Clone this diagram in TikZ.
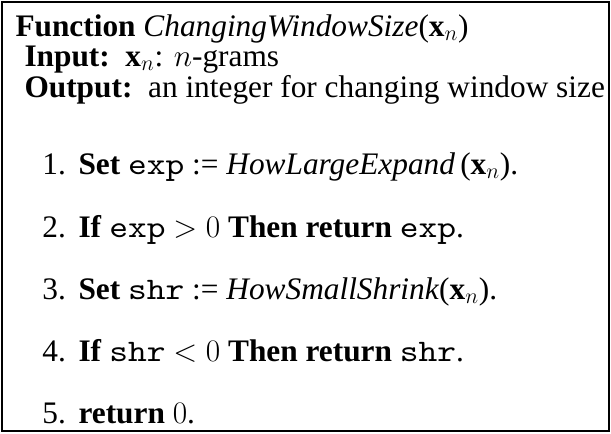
\documentclass[tikz,border=0pt]{standalone}
\usepackage{fix-cm}
\usepackage{fontspec}
\setmainfont{Liberation Serif}
\setmonofont{lmmono10-regular.otf}[FakeStretch=1.14]

\tikzset{every picture/.style={line width=0.75pt}}
\tikzset{algtext/.style={anchor=base west,inner sep=0pt,font=\fontsize{23.5}{28}\selectfont}}

\begin{document}
\begin{tikzpicture}[x=0.75pt,y=0.75pt,yscale=-1,xscale=1]
\useasboundingbox (0,0) rectangle (611,433);

%Shape: Rectangle [id:frame] 
\draw [line width=1.5pt] (2,2) rectangle (609,431) ;

% Text Node
\draw (15,36) node [algtext] (fname) {\textbf{Function} \textit{ChangingWindowSize}($\mathbf{x}_n$)};
% Text Node
\draw (24,66) node [algtext] (input) {\textbf{Input:}~~$\mathbf{x}_n$: $n$-grams};
% Text Node
\draw (24,97) node [algtext] (output) {\textbf{Output:}~~an integer for changing window size};

% Text Node
\draw (42,174) node [algtext] (n1) {1.};
\draw (78,174) node [algtext] (s1) {\textbf{Set} \texttt{exp} := \textit{HowLargeExpand}\,($\mathbf{x}_n$).};
% Text Node
\draw (42,237) node [algtext] (n2) {2.};
\draw (78,237) node [algtext] (s2) {\textbf{If} \texttt{exp} $>0$ \textbf{Then return} \texttt{exp}.};
% Text Node
\draw (42,299) node [algtext] (n3) {3.};
\draw (78,299) node [algtext] (s3) {\textbf{Set} \texttt{shr} := \textit{HowSmallShrink}($\mathbf{x}_n$).};
% Text Node
\draw (42,361) node [algtext] (n4) {4.};
\draw (78,361) node [algtext] (s4) {\textbf{If} \texttt{shr} $<0$ \textbf{Then return} \texttt{shr}.};
% Text Node
\draw (42,423) node [algtext] (n5) {5.};
\draw (78,423) node [algtext] (s5) {\textbf{return} $0$.};

\end{tikzpicture}
\end{document}
